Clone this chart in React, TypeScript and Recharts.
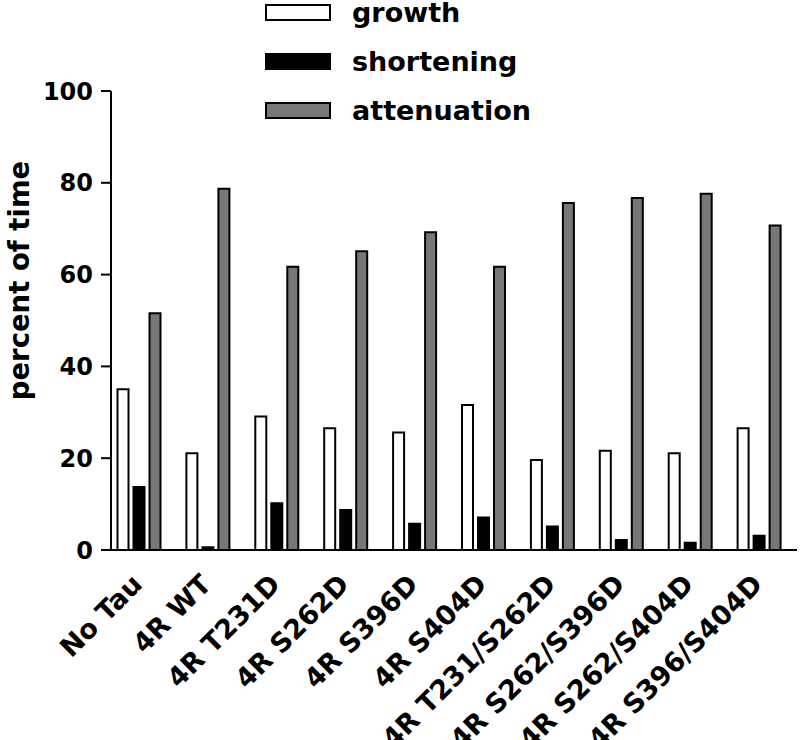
import React from 'react';
import { BarChart, Bar, XAxis, YAxis, Legend } from 'recharts';

const categories = [
  'No Tau', '4R WT', '4R T231D', '4R S262D', '4R S396D', '4R S404D',
  '4R T231/S262D', '4R S262/S396D', '4R S262/S404D', '4R S396/S404D',
];
const growth = [35.0, 21.1, 29.1, 26.5, 25.6, 31.6, 19.6, 21.6, 21.1, 26.5];
const shortening = [13.7, 0.6, 10.2, 8.7, 5.7, 7.1, 5.1, 2.2, 1.6, 3.1];
const attenuation = [51.6, 78.7, 61.7, 65.1, 69.2, 61.7, 75.6, 76.7, 77.6, 70.7];
const yTicks = [0, 20, 40, 60, 80, 100];

const seriesNames = ['growth', 'shortening', 'attenuation'];
const seriesFills = ['#ffffff', '#000000', '#777777'];

const data = categories.map((name, i) => ({
  name,
  growth: growth[i],
  shortening: shortening[i],
  attenuation: attenuation[i],
}));

const FONT = '"DejaVu Sans", Verdana, sans-serif';

const XTick = (props: any) => {
  const { x, y, payload } = props;
  return (
    <g transform={`translate(${x + 5},${y + 36})`}>
      <text
        transform="rotate(-45)"
        textAnchor="end"
        fontFamily={FONT}
        fontWeight="bold"
        fontSize={27}
        fill="#000"
      >
        {payload.value}
      </text>
    </g>
  );
};

const YLabel = (props: any) => {
  const { viewBox } = props;
  const cx = viewBox.x + 29;
  const cy = viewBox.y + viewBox.height / 2 - 40;
  return (
    <text
      x={cx}
      y={cy}
      transform={`rotate(-90, ${cx}, ${cy})`}
      textAnchor="middle"
      fontFamily={FONT}
      fontWeight="bold"
      fontSize={27.5}
      fill="#000"
    >
      percent of time
    </text>
  );
};

const LegendBox = () => (
  <div style={{ fontFamily: FONT, fontWeight: 'bold', fontSize: 27 }}>
    {seriesNames.map((s, i) => (
      <div key={s} style={{ display: 'flex', alignItems: 'center', height: 49 }}>
        <svg width={66} height={17} style={{ display: 'block' }}>
          <rect x={1} y={1} width={64} height={15} fill={seriesFills[i]} stroke="#000" strokeWidth={2} />
        </svg>
        <span style={{ marginLeft: 21, color: '#000', lineHeight: 1 }}>{s}</span>
      </div>
    ))}
  </div>
);

export default function App() {
  return (
    <div style={{ position: 'absolute', left: 0, top: 0, width: 800, height: 740, background: '#fff' }}>
      <BarChart
        width={800}
        height={740}
        data={data}
        margin={{ top: 91, right: 3, bottom: 0, left: 0 }}
        barGap={5}
      >
        <XAxis
          dataKey="name"
          interval={0}
          height={190}
          tickLine={false}
          tickSize={0}
          tickMargin={0}
          padding={{ left: -6.5, right: 3.5 }}
          axisLine={{ stroke: '#000', strokeWidth: 2 }}
          tick={<XTick />}
        />
        <YAxis
          width={111}
          domain={[0, 100]}
          ticks={yTicks}
          interval={0}
          tickSize={10}
          tickMargin={8}
          axisLine={{ stroke: '#000', strokeWidth: 2 }}
          tickLine={{ stroke: '#000', strokeWidth: 2 }}
          tick={{ fontFamily: FONT, fontWeight: 'bold', fontSize: 24, fill: '#000' }}
          label={<YLabel />}
        />
        <Legend
          layout="vertical"
          align="center"
          verticalAlign="middle"
          content={<LegendBox />}
          wrapperStyle={{ position: 'absolute', left: 265, top: -12, width: 320, height: 150 }}
        />
        {seriesNames.map((s, i) => (
          <Bar
            key={s}
            dataKey={s}
            barSize={11}
            fill={seriesFills[i]}
            stroke="#000"
            strokeWidth={2}
            isAnimationActive={false}
          />
        ))}
      </BarChart>
    </div>
  );
}
